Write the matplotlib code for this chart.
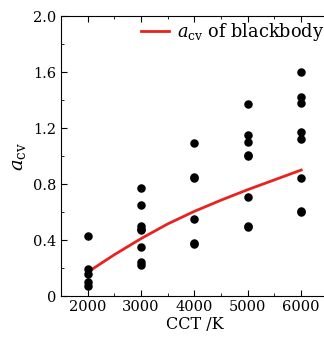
import matplotlib
matplotlib.use("Agg")
import matplotlib.pyplot as plt
from matplotlib.ticker import MultipleLocator

plt.rcParams["font.family"] = "DejaVu Serif"
plt.rcParams["mathtext.fontset"] = "dejavuserif"

# measured a_cv of the light sources, grouped by CCT
cct_2000 = [0.43, 0.19, 0.16, 0.10, 0.075]
cct_3000 = [0.77, 0.65, 0.50, 0.48, 0.47, 0.35, 0.24, 0.22]
cct_4000 = [1.09, 0.85, 0.84, 0.55, 0.38, 0.37]
cct_5000 = [1.37, 1.15, 1.10, 1.01, 1.00, 0.71, 0.50, 0.49]
cct_6000 = [1.60, 1.42, 1.38, 1.17, 1.12, 0.84, 0.61, 0.60]
groups = {2000: cct_2000, 3000: cct_3000, 4000: cct_4000,
          5000: cct_5000, 6000: cct_6000}

# blackbody curve
bb_cct = [2000, 2500, 3000, 3500, 4000, 4500, 5000, 5500, 6000]
bb_acv = [0.17, 0.295, 0.41, 0.515, 0.605, 0.685, 0.76, 0.83, 0.90]

fig = plt.figure(figsize=(3.24, 3.46), dpi=100)
ax = fig.add_axes([0.188, 0.1445, 0.824, 0.809])

for t, vals in groups.items():
    ax.scatter([t] * len(vals), vals, s=26, color="black", zorder=3)

ax.plot(bb_cct, bb_acv, color="#e8231e", lw=2, label=r"$a_{\rm cv}$ of blackbody")

ax.set_xlim(1500, 6500)
ax.set_ylim(0, 2.0)
ax.xaxis.set_major_locator(MultipleLocator(1000))
ax.xaxis.set_minor_locator(MultipleLocator(500))
ax.yaxis.set_major_locator(MultipleLocator(0.4))
ax.yaxis.set_minor_locator(MultipleLocator(0.2))
ax.set_yticks([0, 0.4, 0.8, 1.2, 1.6, 2.0])
ax.set_yticklabels(["0", "0.4", "0.8", "1.2", "1.6", "2.0"])
ax.tick_params(which="both", direction="in", top=True, right=False,
               labelsize=10.5, pad=3)
ax.tick_params(which="major", length=4)
ax.tick_params(which="minor", length=2.5)
ax.spines["right"].set_visible(False)

ax.set_xlabel("CCT /K", fontsize=11.5, labelpad=1)
ax.set_ylabel(r"$a_{\rm cv}$", fontsize=14, labelpad=4)

ax.legend(loc="upper right", frameon=False, fontsize=12.8, handlelength=1.6,
          handletextpad=0.4, borderaxespad=0.0, borderpad=0.3,
          bbox_to_anchor=(1.005, 1.0))

fig.savefig("out.png", dpi=100)
